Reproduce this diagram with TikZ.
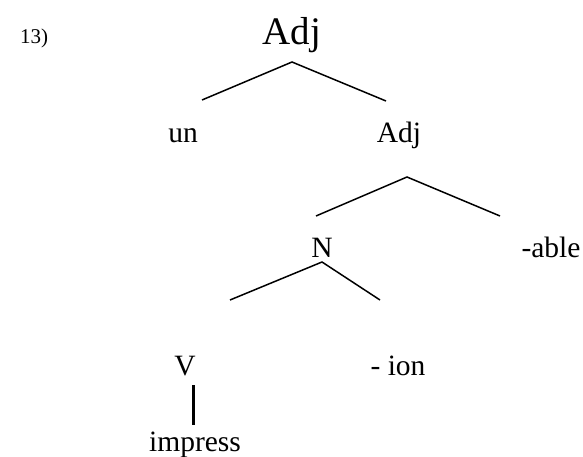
\documentclass[tikz,border=0pt]{standalone}
\usepackage{fontspec}
\setmainfont{Liberation Serif}
\begin{document}
\begin{tikzpicture}[x=1pt,y=-1pt,
  lbl/.style={font=\fontsize{29.5}{31}\selectfont, inner sep=0pt, anchor=base},
  toplbl/.style={font=\fontsize{39}{41}\selectfont, inner sep=0pt, anchor=base},
  numlbl/.style={font=\fontsize{21}{23}\selectfont, inner sep=0pt, anchor=base west},
  branch/.style={line width=1.5pt, line cap=butt},
  unary/.style={line width=3pt, line cap=butt}]
\useasboundingbox (0,0) rectangle (583,457);
\node[numlbl] (num) at (20,44) {13)};
\node[toplbl] (adj1) at (292,45) {Adj};
\node[lbl] (un) at (183,143) {un};
\node[lbl] (adj2) at (399,143) {Adj};
\node[lbl] (n) at (322,257) {N};
\node[lbl] (able) at (551,257) {-able};
\node[lbl] (v) at (185,375) {V};
\node[lbl] (ion) at (398,375) {- ion};
\node[lbl] (impress) at (195,451) {impress};
% branch points
\coordinate (p1) at (292,62);
\coordinate (p1l) at (202,100);
\coordinate (p1r) at (386,101);
\coordinate (p2) at (407,177);
\coordinate (p2l) at (316,216);
\coordinate (p2r) at (500,216);
\coordinate (p3) at (322,262);
\coordinate (p3l) at (230,300);
\coordinate (p3r) at (380,300);
\coordinate (p4) at (193,385);
\coordinate (p4b) at (193,425);
\draw[branch] (p1l) -- (p1) -- (p1r);
\draw[branch] (p2l) -- (p2) -- (p2r);
\draw[branch] (p3l) -- (p3) -- (p3r);
\draw[unary] (p4) -- (p4b);
\end{tikzpicture}
\end{document}
